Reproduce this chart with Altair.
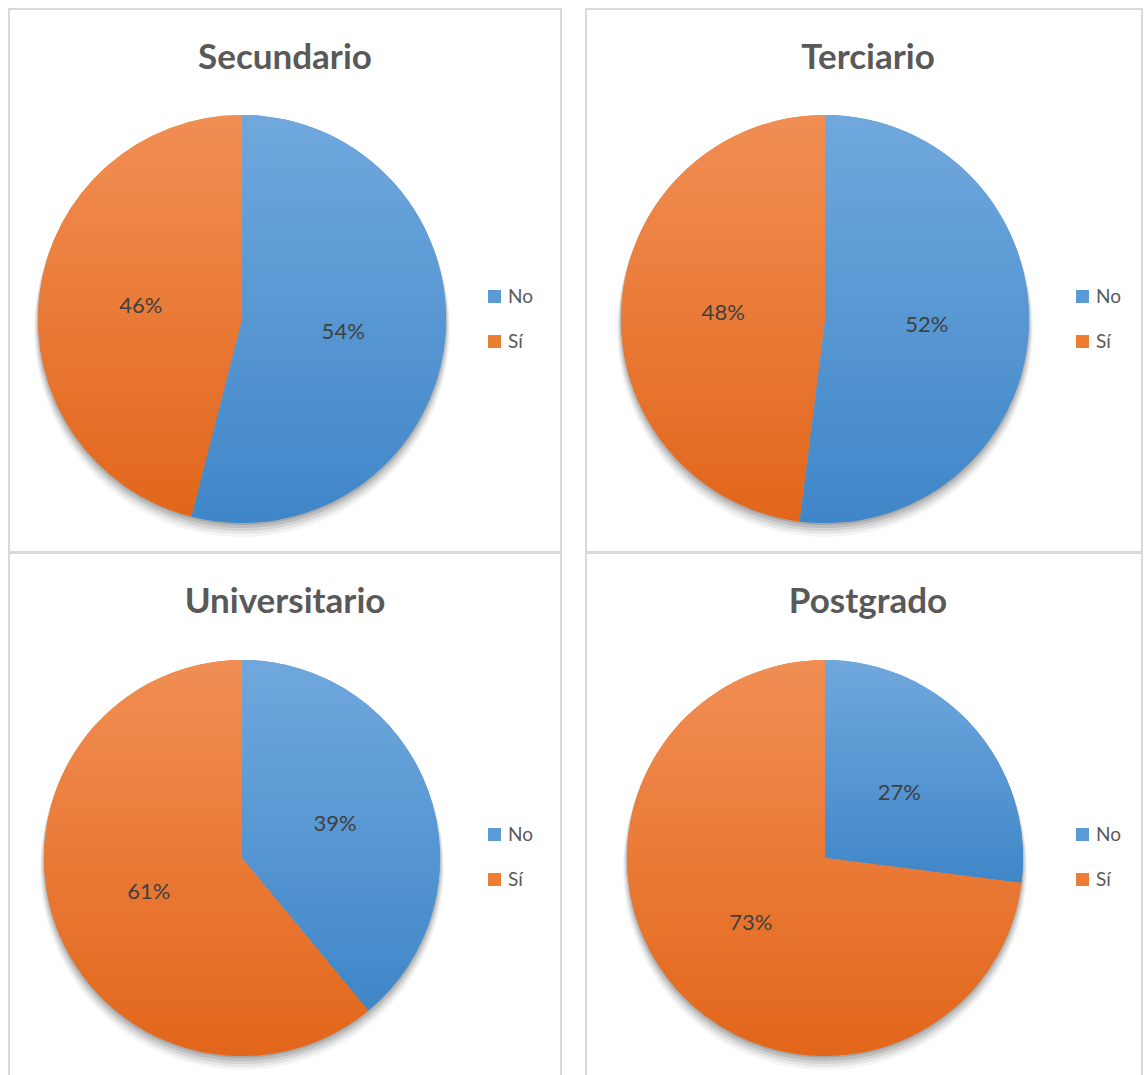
import altair as alt
import pandas as pd

# ---- data ----
levels = ["Secundario", "Terciario", "Universitario", "Postgrado"]
categories = ["No", "Sí"]
no_pct = [54, 52, 39, 27]
si_pct = [46, 48, 61, 73]

# ---- styles ----
flat_colors = ["#5b9bd5", "#ed7d31"]
blue_grad = {"gradient": "linear", "x1": 0, "y1": 0, "x2": 0, "y2": 1,
             "stops": [{"offset": 0, "color": "#70a8dd"}, {"offset": 1, "color": "#3f86c8"}]}
orange_grad = {"gradient": "linear", "x1": 0, "y1": 0, "x2": 0, "y2": 1,
               "stops": [{"offset": 0, "color": "#f18e54"}, {"offset": 1, "color": "#e2661a"}]}

panels = [
    dict(w=552, h=543, cx=233, cy=310, r=204, lx=476, ly=278, tx=276, ty=60),
    dict(w=556, h=543, cx=239, cy=310, r=204, lx=487, ly=278, tx=282, ty=60),
    dict(w=552, h=524, cx=233, cy=305, r=198, lx=476, ly=272, tx=276, ty=60),
    dict(w=556, h=524, cx=239, cy=305, r=198, lx=487, ly=272, tx=282, ty=60),
]

FONT = "Lato"


def panel(i):
    p = panels[i]
    df = pd.DataFrame({"cat": categories, "value": [no_pct[i], si_pct[i]], "ord": [0, 1]})
    base = alt.Chart(df).transform_calculate(label="datum.value + '%'")
    theta = alt.Theta("value:Q", stack=True)
    order = alt.Order("ord:Q")
    cx = alt.value(p["cx"])
    cy = alt.value(p["cy"])
    r = p["r"]

    shadows = [
        base.mark_arc(radius=r + k, opacity=o, color="#000000").encode(
            theta=theta, order=order, x=cx, y=alt.value(p["cy"] + dy))
        for k, dy, o in [(4, 10, 0.04), (3, 8, 0.06), (2, 6, 0.08), (1, 4, 0.10), (0, 2, 0.12)]
    ]

    legend_arc = base.mark_arc(radius=r).encode(
        theta=theta, order=order, x=cx, y=cy,
        color=alt.Color(
            "cat:N",
            scale=alt.Scale(domain=categories, range=flat_colors),
            legend=alt.Legend(
                title=None, orient="none", legendX=p["lx"], legendY=p["ly"],
                symbolType="square", symbolSize=169, symbolStrokeWidth=0,
                labelFontSize=19, labelColor="#595959", labelFont=FONT,
                rowPadding=25, labelOffset=4, padding=0,
            ),
        ),
    )

    grad_arc = base.mark_arc(radius=r).encode(
        theta=theta, order=order, x=cx, y=cy,
        color=alt.condition("datum.cat === 'No'", alt.value(blue_grad), alt.value(orange_grad)),
    )

    labels = base.mark_text(radius=r / 2, fontSize=22, color="#404040", font=FONT).encode(
        theta=theta, order=order, x=cx, y=cy, text="label:N")

    title = alt.Chart(pd.DataFrame({"level": [levels[i]]})).mark_text(
        fontSize=35, fontWeight="bold", color="#595959", font=FONT,
        align="center", baseline="alphabetic",
    ).encode(text="level:N", x=alt.value(p["tx"]), y=alt.value(p["ty"]))

    return alt.layer(*shadows, legend_arc, grad_arc, labels, title).properties(
        width=p["w"], height=p["h"])


top = alt.hconcat(panel(0), panel(1), spacing=23).resolve_scale(color="independent").resolve_legend(color="independent")
bottom = alt.hconcat(panel(2), panel(3), spacing=23).resolve_scale(color="independent").resolve_legend(color="independent")

chart = (
    alt.vconcat(top, bottom, spacing=-2)
    .resolve_scale(color="independent")
    .resolve_legend(color="independent")
    .properties(padding={"left": 8, "top": 8, "right": 0, "bottom": 0}, background="white")
    .configure_view(stroke="#d9d9d9", strokeWidth=2)
)

chart.save("out.html", embed_options={"renderer": "svg", "actions": False})
